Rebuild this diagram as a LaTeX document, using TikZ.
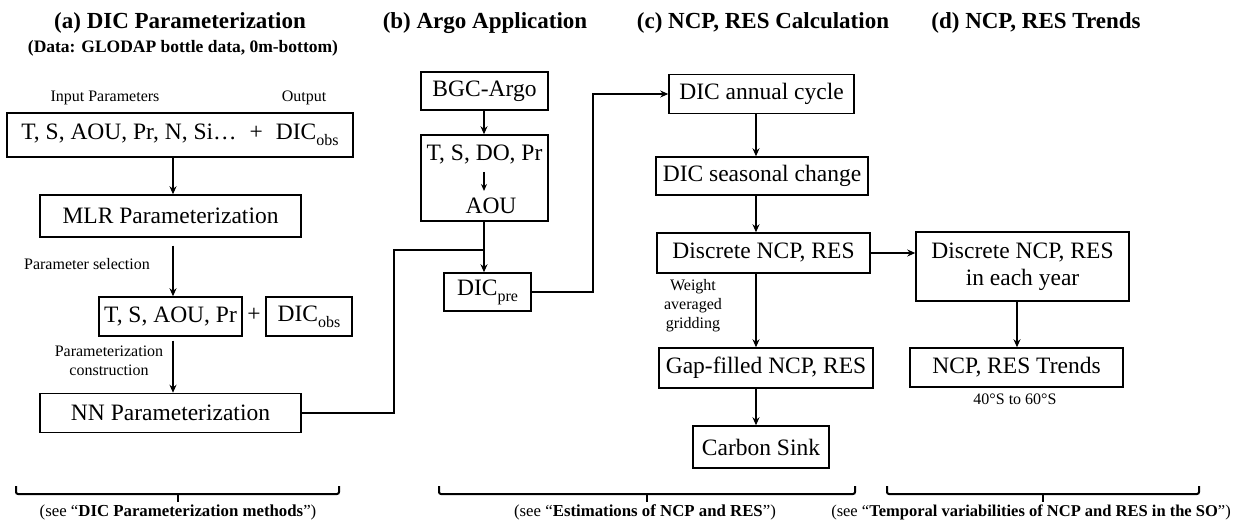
\documentclass[tikz,border=0pt]{standalone}
\usepackage{fontspec}
\setmainfont{Liberation Serif}
\usetikzlibrary{arrows.meta}
\newcommand{\subtxt}[1]{\raisebox{-0.25em}{\fontsize{16}{16}\selectfont #1}}
\begin{document}
\begin{tikzpicture}[x=1pt,y=-1pt,
  bx/.style={draw, line width=1.5pt, inner sep=0pt, align=center, font=\fontsize{23.5}{27}\selectfont},
  ttl/.style={font=\fontsize{23}{26}\selectfont\bfseries},
  sml/.style={font=\fontsize{16}{19}\selectfont, align=center, inner sep=0pt},
  arr/.style={line width=2pt, -{Stealth[length=8pt,width=7pt]}},
  ln/.style={line width=2pt},
  brk/.style={line width=2pt, rounded corners=2pt}]
\useasboundingbox (0,0) rectangle (1237,521);
% titles
\node[ttl] (ta) at (180,23) {(a) DIC Parameterization};
\node[font=\fontsize{17.5}{20}\selectfont\bfseries] (tsub) at (183,48) {(Data: GLODAP bottle data, 0m-bottom)};
\node[ttl] (tb) at (485,23) {(b) Argo Application};
\node[ttl] (tc) at (763,23) {(c) NCP, RES Calculation};
\node[ttl] (td) at (1036,23) {(d) NCP, RES Trends};
% column a
\node[sml] (lin) at (105,98) {Input Parameters};
\node[sml] (lout) at (304,98) {Output};
\node[bx, minimum width=346pt, minimum height=44pt] (b1) at (180,135) {T, S, AOU, Pr, N, Si…\hspace{13pt}+\hspace{13pt}DIC\subtxt{obs}};
\node[bx, minimum width=261pt, minimum height=42pt] (mlr) at (170.5,216) {MLR Parameterization};
\node[bx, minimum width=143pt, minimum height=39pt] (tsap) at (170.5,316.5) {T, S, AOU, Pr};
\node[font=\fontsize{23.5}{27}\selectfont, inner sep=0pt] (plus) at (254,315) {+};
\node[bx, minimum width=86pt, minimum height=39pt] (dobs) at (309,316.5) {DIC\subtxt{obs}};
\node[bx, minimum width=261pt, minimum height=39pt] (nn) at (170.5,413) {NN Parameterization};
\node[sml] (lsel) at (87,264) {Parameter selection};
\node[sml] (lcon) at (109,361) {Parameterization\\construction};
\coordinate (ax) at (173,0);
\draw[arr] (b1.south -| ax) -- (mlr.north -| ax);
\draw[arr, shorten <=8pt] (mlr.south -| ax) -- (tsap.north -| ax);
\draw[arr, shorten <=4pt] (tsap.south -| ax) -- (nn.north -| ax);
% column b
\node[bx, minimum width=127pt, minimum height=38pt] (bgc) at (484.5,91) {BGC-Argo};
\node[bx, minimum width=127pt, minimum height=86pt] (tsdo) at (484.5,178) {};
\node[font=\fontsize{23.5}{27}\selectfont, inner sep=0pt] (tsdoa) at (484.5,155) {T, S, DO, Pr};
\node[font=\fontsize{23.5}{27}\selectfont, inner sep=0pt] (aou) at (491,206) {AOU};
\node[bx, minimum width=87pt, minimum height=38pt] (pre) at (487.5,292) {DIC\subtxt{pre}};
\coordinate (bx) at (484,0);
\coordinate (j1) at (394,250);
\draw[arr] (bgc.south -| bx) -- (tsdo.north -| bx);
\draw[line width=1.6pt, -{Stealth[length=7pt,width=6pt]}] (484,172) -- (484,191);
\draw[arr] (tsdo.south -| bx) -- (pre.north -| bx);
\draw[ln] (nn.east) -- (nn.east -| j1) -- (j1) -- (j1 -| bx);
% column c
\node[bx, minimum width=185pt, minimum height=39pt] (annual) at (761.5,94) {DIC annual cycle};
\node[bx, minimum width=212pt, minimum height=38pt] (seas) at (762,176) {DIC seasonal change};
\node[bx, minimum width=213pt, minimum height=40pt] (disc) at (763.5,253) {Discrete NCP, RES};
\node[bx, minimum width=214pt, minimum height=40pt] (gap) at (766,368) {Gap-filled NCP, RES};
\node[bx, minimum width=136pt, minimum height=42pt] (carbon) at (761,447) {Carbon Sink};
\node[sml] (lw) at (693,306) {Weight\\averaged\\gridding};
\coordinate (cx) at (756,0);
\coordinate (j2) at (593,0);
\draw[arr] (pre.east) -- (pre.east -| j2) -- (annual.west -| j2) -- (annual.west);
\draw[arr] (annual.south -| cx) -- (seas.north -| cx);
\draw[arr] (seas.south -| cx) -- (disc.north -| cx);
\draw[arr] (disc.south -| cx) -- (gap.north -| cx);
\draw[arr] (gap.south -| cx) -- (carbon.north -| cx);
% column d
\node[bx, minimum width=213pt, minimum height=69pt] (year) at (1022.5,266.5) {Discrete NCP, RES\\in each year};
\node[bx, minimum width=213pt, minimum height=39pt] (trend) at (1016.5,367.5) {NCP, RES Trends};
\node[sml] (llat) at (1015,399) {40°S to 60°S};
\coordinate (dx) at (1017,0);
\draw[arr] (disc.east) -- (disc.east -| year.west);
\draw[arr] (year.south -| dx) -- (trend.north -| dx);
% brackets
\coordinate (k1l) at (16,486); \coordinate (k1r) at (339,486); \coordinate (k1c) at (178,494);
\coordinate (k2l) at (439,486); \coordinate (k2r) at (855,486); \coordinate (k2c) at (647,494);
\coordinate (k3l) at (887,486); \coordinate (k3r) at (1199,486); \coordinate (k3c) at (1043,494);
\draw[brk] (k1l) -- (k1l |- k1c) -- (k1r |- k1c) -- (k1r);
\draw[ln] (k1c) -- ++(0,8);
\draw[brk] (k2l) -- (k2l |- k2c) -- (k2r |- k2c) -- (k2r);
\draw[ln] (k2c) -- ++(0,8);
\draw[brk] (k3l) -- (k3l |- k3c) -- (k3r |- k3c) -- (k3r);
\draw[ln] (k3c) -- ++(0,8);
\node[sml, font=\fontsize{16.8}{19}\selectfont] (s1) at (178,512) {(see “\textbf{DIC Parameterization methods}”)};
\node[sml, font=\fontsize{16.8}{19}\selectfont] (s2) at (645,512) {(see “\textbf{Estimations of NCP and RES}”)};
\node[sml, font=\fontsize{16.5}{19}\selectfont] (s3) at (1031,512) {(see “\textbf{Temporal variabilities of NCP and RES in the SO}”)};
\end{tikzpicture}
\end{document}
